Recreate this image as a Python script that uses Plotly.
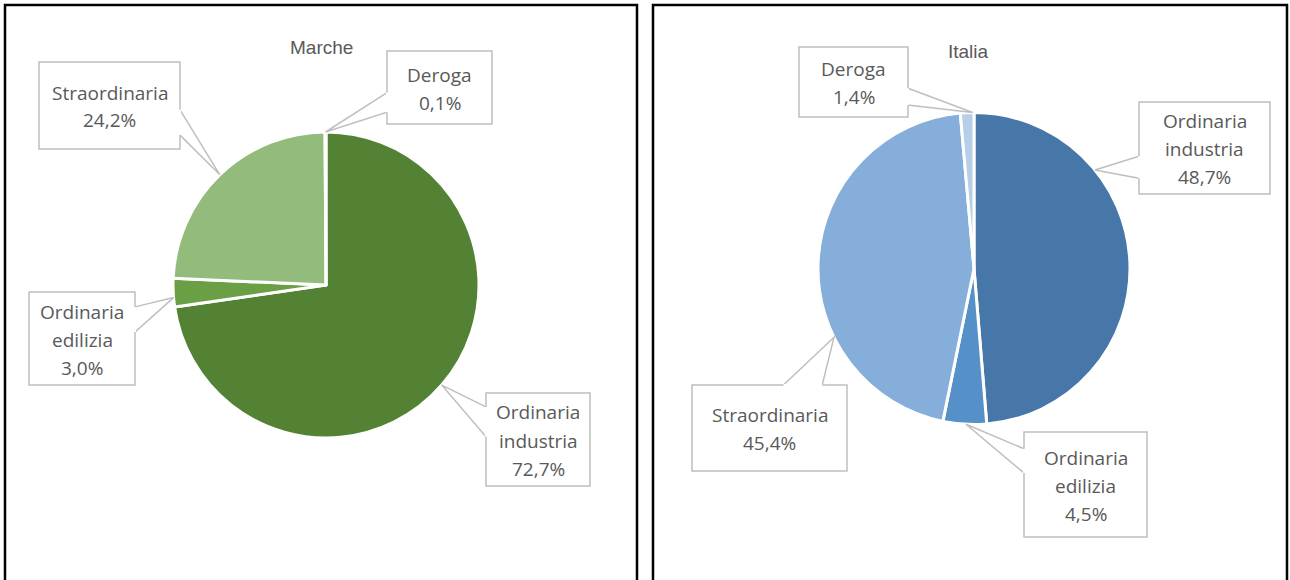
import math
import plotly.graph_objects as go

W, H = 1290, 580

# data
categories = ["Ordinaria industria", "Ordinaria edilizia", "Straordinaria", "Deroga"]
marche_values = [72.7, 3.0, 24.2, 0.1]
italia_values = [48.7, 4.5, 45.4, 1.4]
panel_titles = ["Marche", "Italia"]

marche_colors = ["#548235", "#6a9f45", "#93bb7c", "#a9d08e"]
italia_colors = ["#4677a8", "#5591c8", "#85aedb", "#b7cee9"]

# layout of each panel (pixels, top-left origin)
panels = [
    dict(values=marche_values, colors=marche_colors, title=panel_titles[0],
         cx=326, cy=285, r=153, title_xy=(321, 47), frame=(5, 5, 637),
         callouts=[
             dict(box=(486, 393, 590, 486), side="left", base=(0.15, 0.47), tip=0.5),
             dict(box=(29, 292, 135, 385), side="right", base=(0.16, 0.43), tip=0.33),
             dict(box=(39, 62, 180, 149), side="right", base=(0.55, 0.84), tip=0.5),
             dict(box=(387, 51, 492, 124), side="left", base=(0.57, 0.84), tip=0.5),
         ]),
    dict(values=italia_values, colors=italia_colors, title=panel_titles[1],
         cx=974, cy=268.5, r=156, title_xy=(968, 52), frame=(653, 5, 1287),
         callouts=[
             dict(box=(1139, 102, 1270, 194), side="left", base=(0.59, 0.83), tip=0.29),
             dict(box=(1024, 432, 1147, 537), side="left", base=(0.16, 0.39), tip=0.47),
             dict(box=(692, 385, 847, 471), side="top", base=(0.59, 0.84), tip=0.32),
             dict(box=(799, 47, 908, 117), side="right", base=(0.59, 0.83), tip=0.9),
         ]),
]

TEXT = "#595959"
BOX = "#bfbfbf"


def px(x, y):
    return x / W, 1 - y / H


def fmt(v):
    return f"{v:.1f}".replace(".", ",") + "%"


fig = go.Figure()
shapes = []
annotations = []

for p in panels:
    cx, cy, r = p["cx"], p["cy"], p["r"]
    fig.add_trace(go.Pie(
        labels=categories, values=p["values"], sort=False, direction="clockwise",
        rotation=0, textinfo="none", hoverinfo="label+percent", showlegend=False,
        marker=dict(colors=p["colors"], line=dict(color="white", width=3)),
        domain=dict(x=[(cx - r) / W, (cx + r) / W], y=[1 - (cy + r) / H, 1 - (cy - r) / H]),
    ))

    # panel frame
    fx0, fy0, fx1 = p["frame"]
    shapes.append(dict(type="rect", xref="paper", yref="paper",
                       x0=fx0 / W, x1=fx1 / W, y0=-0.05, y1=1 - fy0 / H,
                       line=dict(color="black", width=2.5), fillcolor="rgba(0,0,0,0)"))

    tx, ty = px(*p["title_xy"])
    annotations.append(dict(x=tx, y=ty, xref="paper", yref="paper", text=p["title"],
                            showarrow=False, xanchor="center", yanchor="middle",
                            font=dict(family="Liberation Sans, Arial", size=19, color=TEXT)))

    total = sum(p["values"])
    start = 0.0
    for cat, v, c in zip(categories, p["values"], p["callouts"]):
        span = v / total * 360
        ang = math.radians(start + c["tip"] * span)
        start += span
        tipx = cx + r * math.sin(ang)
        tipy = cy - r * math.cos(ang)

        x0, y0, x1, y1 = c["box"]
        f1, f2 = c["base"]
        if c["side"] == "left":
            b1, b2 = (x0, y0 + f1 * (y1 - y0)), (x0, y0 + f2 * (y1 - y0))
        elif c["side"] == "right":
            b1, b2 = (x1, y0 + f1 * (y1 - y0)), (x1, y0 + f2 * (y1 - y0))
        else:
            b1, b2 = (x0 + f1 * (x1 - x0), y0), (x0 + f2 * (x1 - x0), y0)

        pts = [px(*b1), px(tipx, tipy), px(*b2)]
        path = "M {} {} L {} {} L {} {} Z".format(*[f"{q:.5f}" for pt in pts for q in pt])
        shapes.append(dict(type="path", xref="paper", yref="paper", path=path,
                           line=dict(color=BOX, width=1.5), fillcolor="white", layer="above"))
        shapes.append(dict(type="rect", xref="paper", yref="paper",
                           x0=x0 / W, x1=x1 / W, y0=1 - y1 / H, y1=1 - y0 / H,
                           line=dict(color=BOX, width=1.5), fillcolor="white", layer="above"))
        # keep the callout open where the wedge joins the box
        shapes.append(dict(type="line", xref="paper", yref="paper",
                           x0=b1[0] / W, y0=1 - b1[1] / H, x1=b2[0] / W, y1=1 - b2[1] / H,
                           line=dict(color="white", width=2), layer="above"))

        lines = cat.split(" ") + [fmt(v)]
        n = len(lines)
        mx, my = (x0 + x1) / 2, (y0 + y1) / 2 + 1
        for i, t in enumerate(lines):
            lx, ly = px(mx, my + (i - (n - 1) / 2) * 28)
            annotations.append(dict(x=lx, y=ly, xref="paper", yref="paper", text=t,
                                    showarrow=False, xanchor="center", yanchor="middle",
                                    font=dict(family="Open Sans", size=19, color=TEXT)))

fig.update_layout(
    width=W, height=H,
    margin=dict(l=0, r=0, t=0, b=0),
    paper_bgcolor="white", plot_bgcolor="white",
    shapes=shapes, annotations=annotations,
)
fig.write_html("out.html", config={"displayModeBar": False},
               post_script="document.body.style.margin='0';")
